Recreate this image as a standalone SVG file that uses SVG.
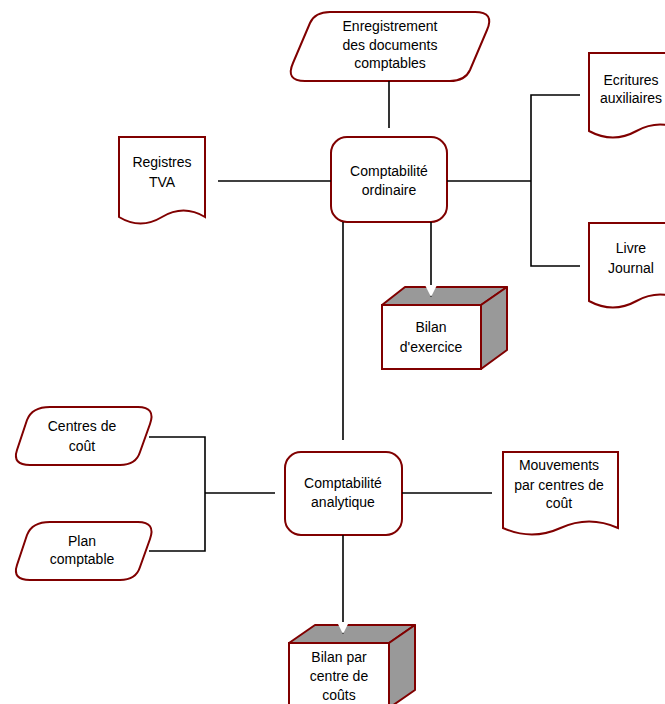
<svg xmlns="http://www.w3.org/2000/svg" width="665" height="704" viewBox="0 0 665 704">
<style>
.shape{fill:#fff;stroke:#800000;stroke-width:2}
.face{fill:#999;stroke:#800000;stroke-width:2;stroke-linejoin:round}
.conn{fill:none;stroke:#000;stroke-width:1.6}
text{font-family:"Liberation Sans",Arial,sans-serif;font-size:14px;fill:#000;text-anchor:middle}
</style>
<defs>
<marker id="arr" markerUnits="userSpaceOnUse" markerWidth="12" markerHeight="12" viewBox="0 0 10 10" refX="10" refY="5" orient="auto">
<path d="M0,0 L10,5 L0,10 Z" fill="#fff"/>
</marker>
</defs>
<rect width="665" height="704" fill="#fff"/>
<g id="enregistrement">
<path class="shape" d="M330,12 H475 Q495,12 487,30 L470,70 Q465,81 450,81 H305 Q285,81 293,63 L310,23 Q315,12 330,12 Z"/>
<text x="390" y="31">Enregistrement</text>
<text x="390" y="50">des documents</text>
<text x="390" y="68">comptables</text>
</g>
<g id="registres-tva">
<path class="shape" d="M119,137 H205 V217 Q183.5,204 162,217 T119,217 Z"/>
<text x="162" y="167">Registres</text>
<text x="162" y="187">TVA</text>
</g>
<g id="comptabilite-ordinaire">
<rect class="shape" x="331" y="137" width="116" height="85" rx="16"/>
<text x="389" y="176">Comptabilité</text>
<text x="389" y="195">ordinaire</text>
</g>
<g id="ecritures-auxiliaires">
<path class="shape" d="M589,53 H684 V131 Q660,118 636.5,131 T589,131 Z"/>
<text x="631" y="85">Ecritures</text>
<text x="631" y="103">auxiliaires</text>
</g>
<g id="livre-journal">
<path class="shape" d="M589,223 H684 V301 Q660,288 636.5,301 T589,301 Z"/>
<text x="631" y="253">Livre</text>
<text x="631" y="273">Journal</text>
</g>
<g id="bilan-exercice">
<path class="face" d="M382,305 L405,287 H507 L481,305 Z"/>
<path class="face" d="M481,305 L507,287 V350 L481,369 Z"/>
<rect class="shape" x="382" y="305" width="99" height="64"/>
<text x="431" y="332">Bilan</text>
<text x="431" y="352">d'exercice</text>
</g>
<g id="centres-de-cout">
<path class="shape" d="M50,407 H138 Q156,407 150,424 L140,452 Q136,465 120,465 H30 Q12,465 17,450 L27,420 Q32,407 50,407 Z"/>
<text x="82" y="431">Centres de</text>
<text x="82" y="451">coût</text>
</g>
<g id="plan-comptable">
<path class="shape" d="M50,522 H138 Q156,522 150,539 L140,567 Q136,580 120,580 H30 Q12,580 17,565 L27,535 Q32,522 50,522 Z"/>
<text x="82" y="546">Plan</text>
<text x="82" y="564">comptable</text>
</g>
<g id="comptabilite-analytique">
<rect class="shape" x="285" y="452" width="117" height="83" rx="16"/>
<text x="343" y="488">Comptabilité</text>
<text x="343" y="507">analytique</text>
</g>
<g id="mouvements">
<path class="shape" d="M503,452 H618 V528 Q589,515 560.5,528 T503,528 Z"/>
<text x="559" y="470">Mouvements</text>
<text x="559" y="490">par centres de</text>
<text x="559" y="508">coût</text>
</g>
<g id="bilan-centre-couts">
<path class="face" d="M289,643 L315,625 H415 L389,643 Z"/>
<path class="face" d="M389,643 L415,625 V690 L389,708 Z"/>
<rect class="shape" x="289" y="643" width="100" height="70"/>
<text x="339" y="662">Bilan par</text>
<text x="339" y="681">centre de</text>
<text x="339" y="700">coûts</text>
</g>
<g id="connectors">
<line class="conn" x1="389" y1="81" x2="389" y2="128"/>
<line class="conn" x1="218" y1="181" x2="331" y2="181"/>
<polyline class="conn" points="447,181 531,181"/>
<polyline class="conn" points="580,95 531,95 531,266 580,266"/>
<line class="conn" x1="431" y1="222" x2="431" y2="297" marker-end="url(#arr)"/>
<line class="conn" x1="343" y1="222" x2="343" y2="440"/>
<polyline class="conn" points="149,437 205,437 205,551 149,551"/>
<line class="conn" x1="205" y1="493" x2="275" y2="493"/>
<line class="conn" x1="402" y1="493" x2="492" y2="493"/>
<line class="conn" x1="343" y1="535" x2="343" y2="634" marker-end="url(#arr)"/>
</g>
</svg>
